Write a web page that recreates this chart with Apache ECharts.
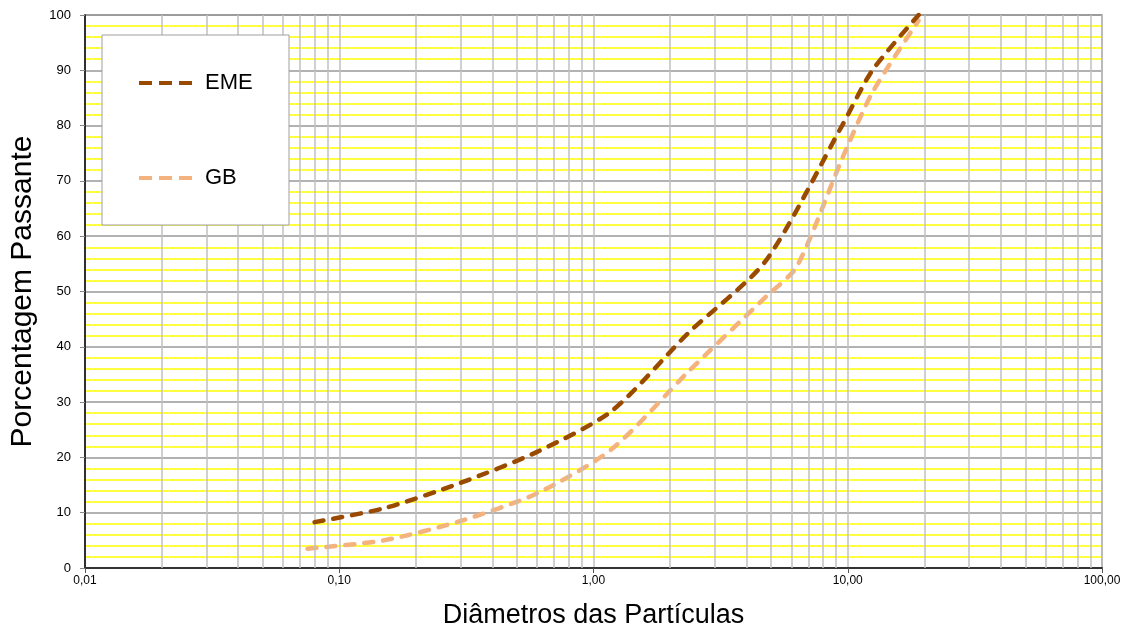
<!DOCTYPE html>
<html>
<head>
<meta charset="utf-8">
<title>Curva granulométrica</title>
<script src="https://cdn.jsdelivr.net/npm/echarts@6/dist/echarts.min.js"></script>
<style>
  html, body { margin: 0; padding: 0; background: #fff; }
  #chart { width: 1132px; height: 639px; }
</style>
</head>
<body>
<div id="chart"></div>
<script>
// sieve openings (mm) and percent passing
const emeSize = [0.08, 0.15, 0.3, 0.6, 1.18, 2.36, 4.75, 9.5, 12.5, 19];
const emePass = [8.3, 10.8, 15.4, 21, 28.4, 42.5, 55.5, 80, 90, 100];
const gbSize = [0.075, 0.15, 0.3, 0.6, 1.18, 2.36, 4.75, 6.3, 9.5, 12.5, 19];
const gbPass = [3.5, 5, 8.5, 13.5, 21.5, 35.5, 49, 54.5, 74, 86, 99];

const xTickLabels = ['0,01', '0,10', '1,00', '10,00', '100,00'];
const decades = [0.01, 0.1, 1, 10];

// log-paper minor lines 2..9 in each decade
const minorLines = [];
decades.forEach((d) => {
  for (let k = 2; k <= 9; k++) minorLines.push(+(d * k).toPrecision(3));
});

// three short dashes, used as the legend key
const dashIcon = 'path://M0,0h13v4h-13z M20,0h13v4h-13z M40,0h13v4h-13z';

const chart = echarts.init(document.getElementById('chart'));

const dashed = (color) => ({
  color: color,
  width: 4.5,
  type: [9, 10],
  cap: 'round',
});

chart.setOption({
  animation: false,
  textStyle: { fontFamily: 'Liberation Sans, Arial, sans-serif' },
  grid: {
    left: 83, right: 30, top: 15, bottom: 71,
    show: true,
    borderColor: '#8c8c8c',
    borderWidth: 1.5,
  },
  graphic: [{
    type: 'rect',
    z: 50,
    shape: { x: 102, y: 35, width: 187, height: 190 },
    style: { fill: '#fff', stroke: '#a0a0a0', lineWidth: 1 },
  }],
  legend: {
    z: 60,
    data: [
      { name: 'EME', icon: dashIcon },
      { name: 'GB', icon: dashIcon },
    ],
    orient: 'vertical',
    left: 139,
    top: 72,
    padding: 0,
    itemWidth: 53,
    itemHeight: 5,
    itemGap: 73,
    textStyle: { fontSize: 22, color: '#000', padding: [0, 0, 0, 8] },
  },
  xAxis: {
    type: 'log',
    logBase: 10,
    min: 0.01,
    max: 100,
    name: 'Diâmetros das Partículas',
    nameLocation: 'middle',
    nameGap: 34,
    nameTextStyle: { fontSize: 27, color: '#000' },
    axisLine: { lineStyle: { color: '#333', width: 2 } },
    axisTick: { show: true, length: 5, lineStyle: { color: '#555' } },
    axisLabel: {
      fontSize: 12, color: '#000', margin: 7,
      formatter: (v) => xTickLabels[Math.round(Math.log10(v)) + 2],
    },
    splitLine: { show: true, lineStyle: { color: '#c0c0c0', width: 1.5 } },
  },
  yAxis: {
    type: 'value',
    min: 0,
    max: 100,
    interval: 10,
    name: 'Porcentagem Passante',
    nameLocation: 'middle',
    nameGap: 47,
    nameTextStyle: { fontSize: 30, color: '#000' },
    axisLine: { show: true, lineStyle: { color: '#000', width: 1.5 } },
    axisTick: { show: true, length: 5, lineStyle: { color: '#888' } },
    axisLabel: { fontSize: 13, color: '#000', margin: 14 },
    splitLine: { show: true, lineStyle: { color: '#999', width: 1.5 } },
    minorTick: { show: false, splitNumber: 5 },
    minorSplitLine: { show: true, lineStyle: { color: '#ffff00', width: 1.5 } },
  },
  series: [
    {
      name: 'grid-minor',
      type: 'line',
      z: 1,
      silent: true,
      data: [[1, 0]],
      showSymbol: false,
      lineStyle: { opacity: 0 },
      markLine: {
        silent: true,
        symbol: 'none',
        label: { show: false },
        lineStyle: { color: '#c0c0c0', type: 'solid', width: 1.5 },
        data: minorLines.map((v) => ({ xAxis: v })),
      },
    },
    {
      name: 'EME',
      type: 'line',
      z: 5,
      smooth: 0.25,
      symbol: 'none',
      lineStyle: dashed('#9a4a00'),
      itemStyle: { color: '#9a4a00' },
      data: emeSize.map((s, i) => [s, emePass[i]]),
    },
    {
      name: 'GB',
      type: 'line',
      z: 4,
      smooth: 0.25,
      symbol: 'none',
      lineStyle: dashed('#f4b27e'),
      itemStyle: { color: '#f4b27e' },
      data: gbSize.map((s, i) => [s, gbPass[i]]),
    },
  ],
});
</script>
</body>
</html>
